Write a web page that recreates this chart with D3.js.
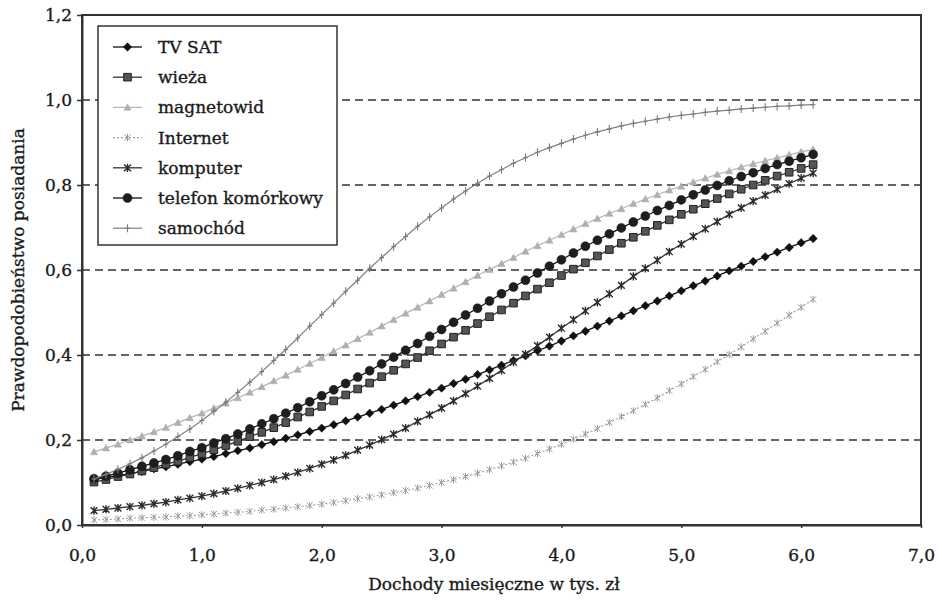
<!doctype html>
<meta charset='utf-8' />
<script src='https://cdn.jsdelivr.net/npm/d3@7/dist/d3.min.js'></script>
<style>
    body { margin: 0; background: #fff; }
    text { font-family: 'DejaVu Serif', serif; fill: #1a1a1a; stroke: #1a1a1a; stroke-width: 0.35px; }
</style>
<svg></svg>
<script>
    var width = 942,
        height = 600,
        fontSize = 17

    // dochody miesięczne (tys. zł)
    var dochody = [0.1, 0.2, 0.3, 0.4, 0.5, 0.6, 0.7, 0.8, 0.9, 1.0,
        1.1, 1.2, 1.3, 1.4, 1.5, 1.6, 1.7, 1.8, 1.9, 2.0,
        2.1, 2.2, 2.3, 2.4, 2.5, 2.6, 2.7, 2.8, 2.9, 3.0,
        3.1, 3.2, 3.3, 3.4, 3.5, 3.6, 3.7, 3.8, 3.9, 4.0,
        4.1, 4.2, 4.3, 4.4, 4.5, 4.6, 4.7, 4.8, 4.9, 5.0,
        5.1, 5.2, 5.3, 5.4, 5.5, 5.6, 5.7, 5.8, 5.9, 6.0, 6.1]

    var tvSat = [0.107, 0.112, 0.116, 0.121, 0.126, 0.132, 0.137, 0.143, 0.149, 0.155,
        0.161, 0.168, 0.175, 0.181, 0.189, 0.196, 0.204, 0.212, 0.220, 0.228,
        0.236, 0.245, 0.254, 0.263, 0.272, 0.282, 0.292, 0.302, 0.312, 0.322,
        0.333, 0.343, 0.354, 0.365, 0.376, 0.387, 0.398, 0.410, 0.421, 0.433,
        0.445, 0.456, 0.468, 0.480, 0.492, 0.504, 0.516, 0.527, 0.539, 0.551,
        0.563, 0.574, 0.586, 0.598, 0.609, 0.620, 0.631, 0.642, 0.653, 0.664, 0.674]

    var wieza = [0.101, 0.107, 0.114, 0.120, 0.127, 0.135, 0.143, 0.150, 0.159, 0.168,
        0.177, 0.187, 0.197, 0.208, 0.218, 0.229, 0.241, 0.254, 0.266, 0.279,
        0.292, 0.306, 0.320, 0.334, 0.349, 0.364, 0.379, 0.394, 0.410, 0.426,
        0.442, 0.458, 0.474, 0.490, 0.506, 0.522, 0.539, 0.555, 0.570, 0.587,
        0.602, 0.617, 0.633, 0.648, 0.663, 0.677, 0.691, 0.705, 0.718, 0.731,
        0.743, 0.756, 0.768, 0.779, 0.790, 0.800, 0.811, 0.821, 0.830, 0.839, 0.848]

    var magnetowid = [0.172, 0.181, 0.190, 0.200, 0.209, 0.219, 0.229, 0.241, 0.252, 0.263,
        0.275, 0.287, 0.299, 0.312, 0.325, 0.339, 0.352, 0.366, 0.380, 0.394,
        0.409, 0.423, 0.438, 0.453, 0.468, 0.483, 0.498, 0.512, 0.527, 0.542,
        0.557, 0.572, 0.587, 0.601, 0.615, 0.629, 0.644, 0.657, 0.670, 0.683,
        0.696, 0.709, 0.721, 0.733, 0.744, 0.756, 0.767, 0.777, 0.788, 0.797,
        0.807, 0.816, 0.825, 0.833, 0.842, 0.850, 0.857, 0.864, 0.871, 0.878, 0.884]

    var internet = [0.012, 0.013, 0.014, 0.016, 0.017, 0.018, 0.019, 0.021, 0.022, 0.024,
        0.026, 0.028, 0.030, 0.032, 0.035, 0.037, 0.040, 0.043, 0.046, 0.049,
        0.053, 0.057, 0.062, 0.066, 0.071, 0.076, 0.081, 0.087, 0.093, 0.100,
        0.107, 0.114, 0.122, 0.130, 0.139, 0.148, 0.157, 0.168, 0.179, 0.190,
        0.202, 0.214, 0.227, 0.241, 0.255, 0.269, 0.284, 0.299, 0.316, 0.332,
        0.349, 0.366, 0.384, 0.401, 0.419, 0.438, 0.456, 0.475, 0.494, 0.512, 0.531]

    var komputer = [0.034, 0.037, 0.040, 0.043, 0.046, 0.050, 0.054, 0.059, 0.063, 0.068,
        0.074, 0.080, 0.086, 0.093, 0.100, 0.107, 0.115, 0.124, 0.133, 0.143,
        0.153, 0.164, 0.176, 0.188, 0.201, 0.214, 0.228, 0.244, 0.259, 0.275,
        0.292, 0.309, 0.327, 0.345, 0.364, 0.383, 0.402, 0.422, 0.442, 0.463,
        0.483, 0.504, 0.524, 0.544, 0.564, 0.585, 0.604, 0.623, 0.643, 0.661,
        0.679, 0.697, 0.714, 0.731, 0.746, 0.762, 0.776, 0.790, 0.803, 0.816, 0.828]

    var telefon = [0.109, 0.115, 0.122, 0.130, 0.138, 0.146, 0.154, 0.163, 0.173, 0.182,
        0.193, 0.203, 0.214, 0.226, 0.238, 0.250, 0.263, 0.276, 0.290, 0.304,
        0.318, 0.333, 0.348, 0.363, 0.379, 0.395, 0.411, 0.427, 0.444, 0.460,
        0.477, 0.494, 0.510, 0.527, 0.544, 0.560, 0.576, 0.593, 0.609, 0.624,
        0.640, 0.656, 0.670, 0.685, 0.699, 0.713, 0.727, 0.740, 0.752, 0.765,
        0.777, 0.788, 0.799, 0.810, 0.820, 0.829, 0.839, 0.848, 0.856, 0.864, 0.872]

    var samochod = [0.108, 0.119, 0.131, 0.144, 0.158, 0.174, 0.190, 0.208, 0.226, 0.246,
        0.267, 0.289, 0.312, 0.336, 0.361, 0.387, 0.413, 0.440, 0.468, 0.495,
        0.522, 0.550, 0.576, 0.604, 0.629, 0.655, 0.679, 0.703, 0.725, 0.746,
        0.767, 0.786, 0.804, 0.821, 0.836, 0.851, 0.864, 0.877, 0.888, 0.898,
        0.908, 0.917, 0.925, 0.932, 0.939, 0.945, 0.950, 0.955, 0.960, 0.964,
        0.967, 0.971, 0.974, 0.976, 0.979, 0.981, 0.983, 0.985, 0.986, 0.988, 0.989]

    var nazwy = ['TV SAT', 'wieża', 'magnetowid', 'Internet', 'komputer', 'telefon komórkowy', 'samochód']
    var yTicks = [0, 0.2, 0.4, 0.6, 0.8, 1.0, 1.2]
    var xTicks = [0, 1, 2, 3, 4, 5, 6, 7]
    var gridTicks = [0.2, 0.4, 0.6, 0.8, 1.0]

    // marker shapes
    function diamond(s) { return 'M0,' + -s + 'L' + s + ',0L0,' + s + 'L' + -s + ',0Z' }
    function square(s) { return 'M' + -s + ',' + -s + 'h' + 2 * s + 'v' + 2 * s + 'h' + -2 * s + 'Z' }
    function triangle(s) { return 'M0,' + -s + 'L' + s + ',' + s * 0.8 + 'L' + -s + ',' + s * 0.8 + 'Z' }
    function circle(s) { return 'M' + -s + ',0a' + s + ',' + s + ' 0 1,0 ' + 2 * s + ',0a' + s + ',' + s + ' 0 1,0 ' + -2 * s + ',0' }
    function cross(s) { return 'M' + -s + ',' + -s + 'L' + s + ',' + s + 'M' + s + ',' + -s + 'L' + -s + ',' + s }
    function star(s) { return cross(s) + 'M0,' + -s * 1.2 + 'V' + s * 1.2 }
    function plus(s) { return 'M0,' + -s + 'V' + s + 'M' + -s * 0.6 + ',0H' + s * 0.6 }

    var series = [
        { name: nazwy[0], values: tvSat, line: '#111', width: 1.3, mark: diamond(4.2), fill: '#111', stroke: '#111', sw: 0.5 },
        { name: nazwy[1], values: wieza, line: '#333', width: 1.3, mark: square(3.8), fill: '#555', stroke: '#222', sw: 1 },
        { name: nazwy[2], values: magnetowid, line: '#b5b5b5', width: 1.2, mark: triangle(3.6), fill: '#b0b0b0', stroke: '#a8a8a8', sw: 0.5 },
        { name: nazwy[3], values: internet, line: '#a0a0a0', width: 1.1, mark: star(3), fill: 'none', stroke: '#999', sw: 1, dash: '2,2' },
        { name: nazwy[4], values: komputer, line: '#333', width: 1.3, mark: star(3.4), fill: 'none', stroke: '#2a2a2a', sw: 1.4 },
        { name: nazwy[5], values: telefon, line: '#111', width: 1.3, mark: circle(4.5), fill: '#1e1e1e', stroke: '#111', sw: 0.5 },
        { name: nazwy[6], values: samochod, line: '#808080', width: 1.2, mark: plus(4), fill: 'none', stroke: '#7a7a7a', sw: 1.1 }
    ]

    var svg = d3.select('svg')
        .attr('width', width)
        .attr('height', height)

    svg.append('rect')
        .attr('width', width)
        .attr('height', height)
        .style('fill', '#fff')

    var x = d3.scaleLinear().domain([0, 7]).range([82, 921])
    var y = d3.scaleLinear().domain([0, 1.2]).range([525, 15])

    var fmt = function (d) { return d3.format('.1f')(d).replace('.', ',') }

    // dashed grid
    svg.append('g')
        .selectAll('line')
        .data(gridTicks)
        .enter()
        .append('line')
        .attr('x1', x(0))
        .attr('x2', x(7))
        .attr('y1', d => y(d))
        .attr('y2', d => y(d))
        .style('stroke', '#333')
        .style('stroke-width', 1.4)
        .style('stroke-dasharray', '8,5')

    // frame
    svg.append('rect')
        .attr('x', x(0))
        .attr('y', y(1.2))
        .attr('width', x(7) - x(0))
        .attr('height', y(0) - y(1.2))
        .style('fill', 'none')
        .style('stroke', '#333')
        .style('stroke-width', 2)

    svg.append('g')
        .attr('transform', 'translate(' + x(0) + ',0)')
        .call(d3.axisLeft(y).tickValues(yTicks).tickSize(5).tickSizeOuter(0).tickPadding(5).tickFormat(fmt))

    svg.append('g')
        .attr('transform', 'translate(0,' + y(0) + ')')
        .call(d3.axisBottom(x).tickValues(xTicks).tickSize(3).tickSizeOuter(0).tickPadding(21).tickFormat(fmt))

    svg.selectAll('.domain').style('stroke', '#333').style('stroke-width', 2)
    svg.selectAll('.tick line').style('stroke', '#333').style('stroke-width', 1.5)
    svg.selectAll('.tick text')
        .attr('font-size', fontSize)
        .style('font-family', "'DejaVu Serif', serif")
        .style('fill', '#1a1a1a')

    // series lines and markers
    var line = d3.line()
        .x((d, i) => x(dochody[i]))
        .y(d => y(d))

    series.forEach(function (s) {
        svg.append('path')
            .datum(s.values)
            .attr('d', line)
            .style('fill', 'none')
            .style('stroke', s.line)
            .style('stroke-width', s.width)
            .style('stroke-dasharray', s.dash || null)

        svg.append('g')
            .selectAll('path')
            .data(s.values)
            .enter()
            .append('path')
            .attr('transform', (d, i) => 'translate(' + x(dochody[i]) + ',' + y(d) + ')')
            .attr('d', s.mark)
            .style('fill', s.fill)
            .style('stroke', s.stroke)
            .style('stroke-width', s.sw)
    })

    // legend
    var legend = svg.append('g')

    legend.append('rect')
        .attr('x', 98)
        .attr('y', 26)
        .attr('width', 239)
        .attr('height', 219)
        .style('fill', '#fff')
        .style('stroke', '#333')
        .style('stroke-width', 1.5)

    var items = legend.selectAll('g.item')
        .data(series)
        .enter()
        .append('g')
        .attr('class', 'item')
        .attr('transform', (d, i) => 'translate(0,' + (47 + i * 30.2) + ')')

    items.append('line')
        .attr('x1', 113)
        .attr('x2', 142)
        .style('stroke', d => d.line)
        .style('stroke-width', d => d.width)
        .style('stroke-dasharray', d => d.dash || null)

    items.append('path')
        .attr('transform', 'translate(127.5,0)')
        .attr('d', d => d.mark)
        .style('fill', d => d.fill)
        .style('stroke', d => d.stroke)
        .style('stroke-width', d => d.sw)

    items.append('text')
        .attr('x', 158)
        .attr('dy', '0.35em')
        .attr('font-size', fontSize)
        .text(d => d.name)

    // axis titles
    svg.append('text')
        .attr('transform', 'translate(24,' + y(0.6) + ') rotate(-90)')
        .attr('text-anchor', 'middle')
        .attr('font-size', fontSize)
        .text('Prawdopodobieństwo posiadania')

    svg.append('text')
        .attr('x', 494)
        .attr('y', 590)
        .attr('text-anchor', 'middle')
        .attr('font-size', fontSize)
        .text('Dochody miesięczne w tys. zł')
</script>
